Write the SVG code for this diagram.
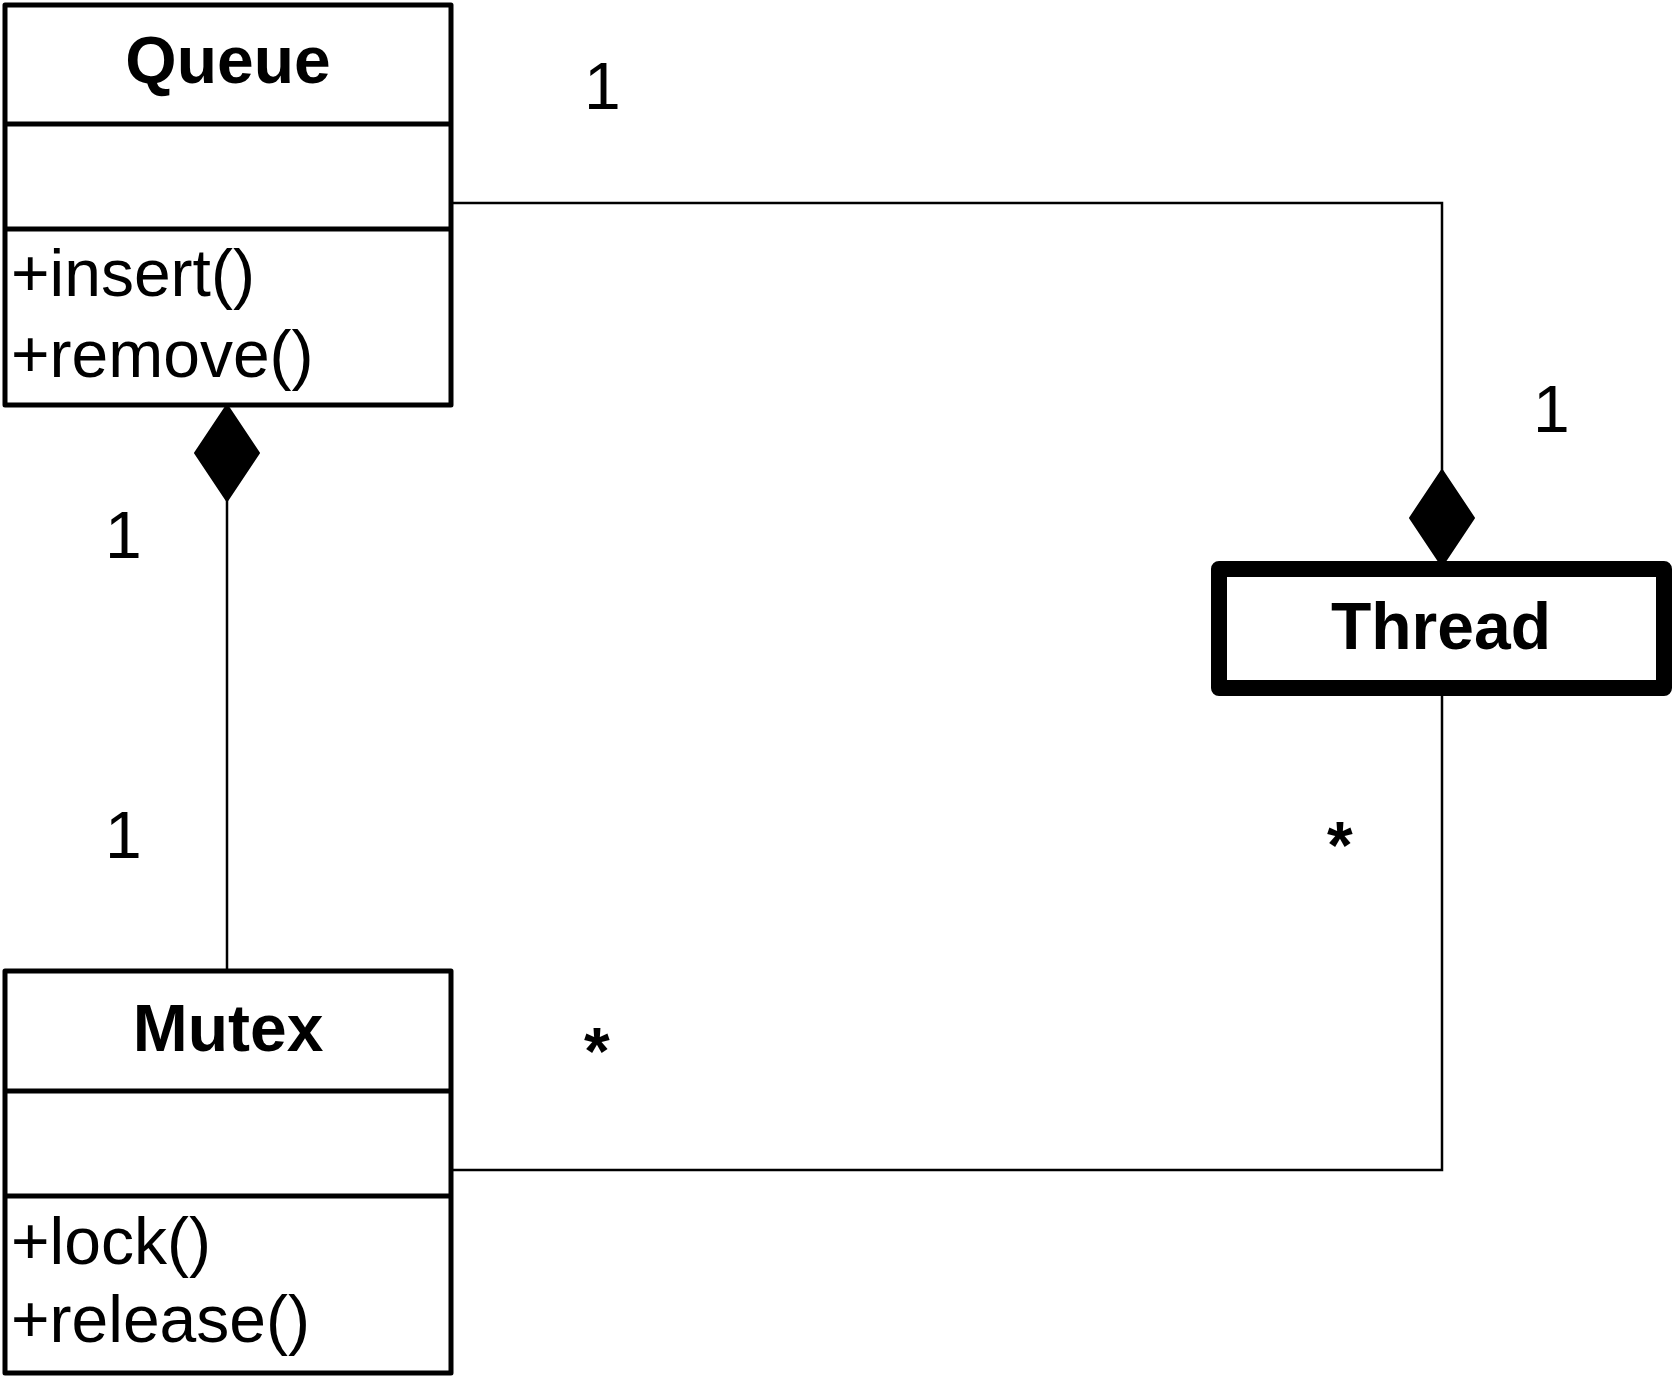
<svg xmlns="http://www.w3.org/2000/svg" width="1676" height="1376" viewBox="0 0 1676 1376">
<style>
.box{fill:#fff;stroke:#000;stroke-width:5;stroke-linejoin:round}
.div{stroke:#000;stroke-width:5}
.conn{fill:none;stroke:#000;stroke-width:2.5}
.dia{fill:#000;stroke:#000;stroke-width:2;stroke-linejoin:round}
.name{font-family:"Liberation Sans",Arial,sans-serif;font-weight:bold;font-size:66px;text-anchor:middle}
.txt{font-family:"Liberation Sans",Arial,sans-serif;font-size:66px}
.star{font-family:"Liberation Sans",Arial,sans-serif;font-size:66px;font-weight:bold}
</style>
<rect width="1676" height="1376" fill="#fff"/>
<g id="connectors">
<polyline class="conn" points="451,203 1442,203 1442,472"/>
<polygon class="dia" points="1442,470 1474,518 1442,566 1410,518"/>
<polyline class="conn" points="1442,695 1442,1170 451,1170"/>
<line class="conn" x1="227" y1="500" x2="227" y2="971"/>
<polygon class="dia" points="227,405 259,453 227,501 195,453"/>
<text class="txt" x="584" y="109">1</text>
<text class="txt" x="1533" y="432">1</text>
<text class="txt" x="105" y="558">1</text>
<text class="txt" x="105" y="858">1</text>
<text class="star" x="584" y="1074">*</text>
<text class="star" x="1327" y="868">*</text>
</g>
<g id="queue">
<rect class="box" x="5" y="5" width="446" height="400"/>
<line class="div" x1="5" y1="124" x2="451" y2="124"/>
<line class="div" x1="5" y1="229" x2="451" y2="229"/>
<text class="name" x="228" y="83">Queue</text>
<text class="txt" x="11" y="296">+insert()</text>
<text class="txt" x="11" y="377">+remove()</text>
</g>
<g id="mutex">
<rect class="box" x="5" y="971" width="446" height="402"/>
<line class="div" x1="5" y1="1091" x2="451" y2="1091"/>
<line class="div" x1="5" y1="1196" x2="451" y2="1196"/>
<text class="name" x="228" y="1051">Mutex</text>
<text class="txt" x="11" y="1264">+lock()</text>
<text class="txt" x="11" y="1342">+release()</text>
</g>
<g id="thread">
<rect x="1219" y="569" width="445" height="119" fill="#fff" stroke="#000" stroke-width="16" stroke-linejoin="round"/>
<text class="name" x="1441" y="649">Thread</text>
</g>
</svg>
